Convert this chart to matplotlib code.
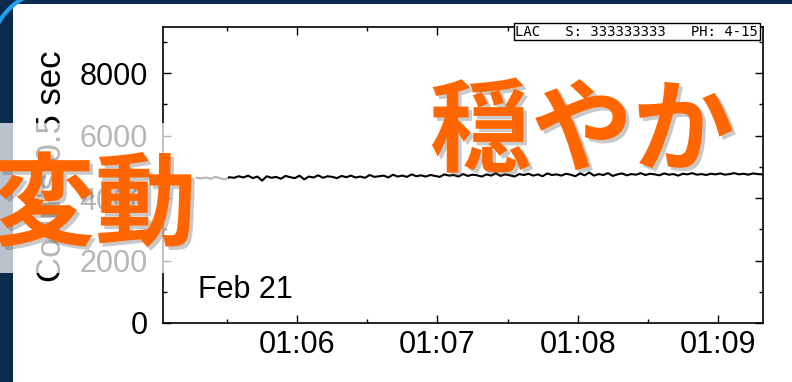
import numpy as np
import matplotlib
matplotlib.use("Agg")
from matplotlib import pyplot as plt
import matplotlib.dates as mdates
import matplotlib.patheffects as pe
from matplotlib.patches import Rectangle, Arc

plt.rcParams['font.family'] = ['Liberation Sans', 'Noto Sans CJK JP', 'DejaVu Sans']

# LAC light curve, 2 s samples starting 01:05:17 (counts per 0.5 s)
start_time = '1990-02-21T01:05:17'
step_sec = 2
counts = [
    4650, 4630, 4660, 4620, 4680, 4640, 4600, 4670, 4650, 4700,
    4660, 4720, 4640, 4690, 4560, 4700, 4650, 4680, 4620, 4710,
    4670, 4640, 4720, 4600, 4690, 4660, 4730, 4650, 4700, 4680,
    4640, 4710, 4670, 4720, 4660, 4690, 4650, 4740, 4680, 4700,
    4720, 4660, 4750, 4690, 4720, 4680, 4760, 4700, 4730, 4690,
    4740, 4710, 4680, 4760, 4720, 4740, 4690, 4770, 4710, 4750,
    4730, 4690, 4760, 4720, 4800, 4710, 4760, 4730, 4690, 4770,
    4740, 4780, 4720, 4760, 4700, 4790, 4740, 4760, 4720, 4780,
    4750, 4700, 4790, 4730, 4820, 4720, 4770, 4740, 4800, 4710,
    4760, 4790, 4730, 4770, 4750, 4800, 4740, 4780, 4760, 4730,
    4790, 4750, 4770, 4720, 4780, 4760, 4800, 4750, 4770, 4740,
    4780, 4760, 4790, 4750, 4770, 4800, 4760, 4780, 4750, 4790,
    4770, 4760,
]
times = np.datetime64(start_time) + np.arange(len(counts)) * np.timedelta64(step_sec, 's')

x_range = [np.datetime64('1990-02-21T01:05:02.600'), np.datetime64('1990-02-21T01:09:19.300')]
y_range = [0, 9480]
y_ticks = [0, 2000, 4000, 6000, 8000]

date_label = 'Feb 21'
header_label = 'LAC   S: 333333333   PH: 4-15'
word_left = '変動'
word_right = '穏やか'

ORANGE = '#ff6600'
NAVY = '#0a2a4e'

fig = plt.figure(figsize=(7.92, 3.82), dpi=100)
fig.patch.set_facecolor('white')

# slide frame: navy bars along top and left, blue corner arc
fig.add_artist(Rectangle((0, 0), 13 / 792, 1, transform=fig.transFigure,
                         facecolor=NAVY, edgecolor='none', zorder=1))
fig.add_artist(Rectangle((0, 1 - 4 / 382), 1, 4 / 382, transform=fig.transFigure,
                         facecolor=NAVY, edgecolor='none', zorder=1))
fig.add_artist(Arc((0.55, 3.27), 1.3, 1.3, theta1=95, theta2=175,
                   transform=fig.dpi_scale_trans, color='#1e9fef', lw=3, zorder=2))

ax = fig.add_axes([163 / 792, 59 / 382, 600 / 792, 296 / 382])
ax.plot(times, counts, color='black', lw=1.5)

ax.set_xlim(x_range)
ax.set_ylim(y_range)
ax.set_yticks(y_ticks)
ax.yaxis.set_minor_locator(matplotlib.ticker.MultipleLocator(1000))
ax.xaxis.set_major_locator(mdates.MinuteLocator())
ax.xaxis.set_minor_locator(mdates.SecondLocator(bysecond=[30]))
ax.xaxis.set_major_formatter(mdates.DateFormatter('%H:%M'))

ax.tick_params(which='both', direction='in', top=True, right=True, width=1)
ax.tick_params(which='major', length=6)
ax.tick_params(which='minor', length=3)
ax.tick_params(axis='x', labelsize=22, pad=5)
ax.tick_params(axis='y', labelsize=22, pad=11)
for sp in ax.spines.values():
    sp.set_linewidth(1.2)

ax.set_ylabel('Counts/0.5 sec', fontsize=25)
ax.yaxis.set_label_coords(-0.158, 0.528)

ax.text(0.058, 0.085, date_label, transform=ax.transAxes, fontsize=22, va='baseline')
ax.text(0.992, 1.008, header_label, transform=ax.transAxes, ha='right', va='top',
        fontsize=10, family='DejaVu Sans Mono',
        bbox=dict(facecolor='white', edgecolor='black', linewidth=1, pad=1.2))

# translucent white panel over the left part of the plot
fig.add_artist(Rectangle((0, (382 - 273) / 382), 228 / 792, 150 / 382,
                         transform=fig.transFigure, facecolor='white', alpha=0.72,
                         edgecolor='none', zorder=3))

shadow = [pe.withSimplePatchShadow(offset=(2.5, -2.5), shadow_rgbFace='0.3', alpha=0.3)]
fig.text(95 / 792, (382 - 208) / 382, word_left, fontsize=73, fontweight='bold',
         color=ORANGE, ha='center', va='center', family=['Noto Sans CJK JP'],
         path_effects=shadow, zorder=5)
fig.text(582 / 792, (382 - 134) / 382, word_right, fontsize=73, fontweight='bold',
         color=ORANGE, ha='center', va='center', family=['Noto Sans CJK JP'],
         path_effects=shadow, zorder=5)

fig.savefig('out.png', dpi=100)
